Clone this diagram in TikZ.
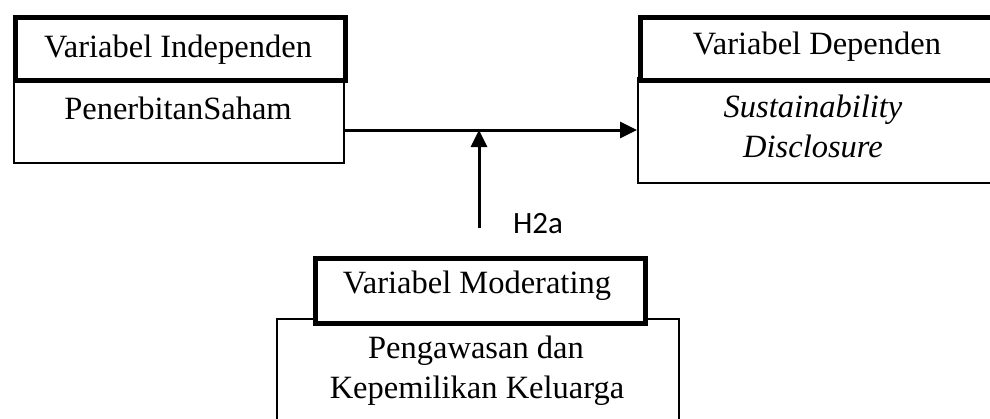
\documentclass[tikz,border=0pt]{standalone}
\usepackage{fontspec}
\setmainfont{Liberation Serif}[ItalicFont={Liberation Serif Italic},BoldFont={Liberation Serif Bold}]
\newfontfamily\labelfont{Carlito}
\usetikzlibrary{arrows.meta}
\begin{document}
\begin{tikzpicture}[x=1pt,y=-1pt,
  thinbox/.style={draw,line width=2pt,fill=white,rectangle,inner sep=0pt,anchor=north west},
  thickbox/.style={draw,line width=5.5pt,fill=white,rectangle,inner sep=0pt,anchor=north west},
  txt/.style={font=\fontsize{32.5}{39}\selectfont,anchor=base,inner sep=0pt},
  arr/.style={line width=3pt,-{Triangle[length=17pt,width=16pt]}}]
\useasboundingbox (0,0) rectangle (990,418);
\clip (0,0) rectangle (990,418);
% left
\node[thinbox,minimum width=330pt,minimum height=84pt] (indepbody) at (13,78) {};
\node[thickbox,minimum width=330pt,minimum height=63pt] (indephead) at (12.5,14.5) {};
\node[txt] (indeptitle) at (178,57) {Variabel Independen};
\node[txt] (indeptext) at (178,119) {PenerbitanSaham};
% right
\node[thinbox,minimum width=370pt,minimum height=105pt] (depbody) at (637,77) {};
\node[thickbox,minimum width=370pt,minimum height=63pt] (dephead) at (637.5,14.5) {};
\node[txt] (deptitle) at (817,54) {Variabel Dependen};
\node[txt] (deptext1) at (813,117) {\itshape Sustainability};
\node[txt] (deptext2) at (813,157) {\itshape Disclosure};
% bottom
\node[thinbox,minimum width=402pt,minimum height=120pt] (modbody) at (276,318) {};
\node[thickbox,minimum width=330pt,minimum height=65pt] (modhead) at (312.5,255.5) {};
\node[txt] (modtitle) at (477,293) {Variabel Moderating};
\node[txt] (modtext1) at (476,358) {Pengawasan dan};
\node[txt] (modtext2) at (477,398) {Kepemilikan Keluarga};
% connectors
\coordinate (hstart) at (indepbody.east |- 0,130);
\coordinate (hend) at (depbody.west |- 0,130);
\coordinate (vstart) at (479,228);
\coordinate (vend) at (479,130);
\draw[arr] (hstart) -- (hend);
\draw[arr] (vstart) -- (vend);
\node[font=\labelfont\fontsize{31}{37}\selectfont,anchor=base,inner sep=0pt] (h2a) at (538,233) {H2a};
\end{tikzpicture}
\end{document}
